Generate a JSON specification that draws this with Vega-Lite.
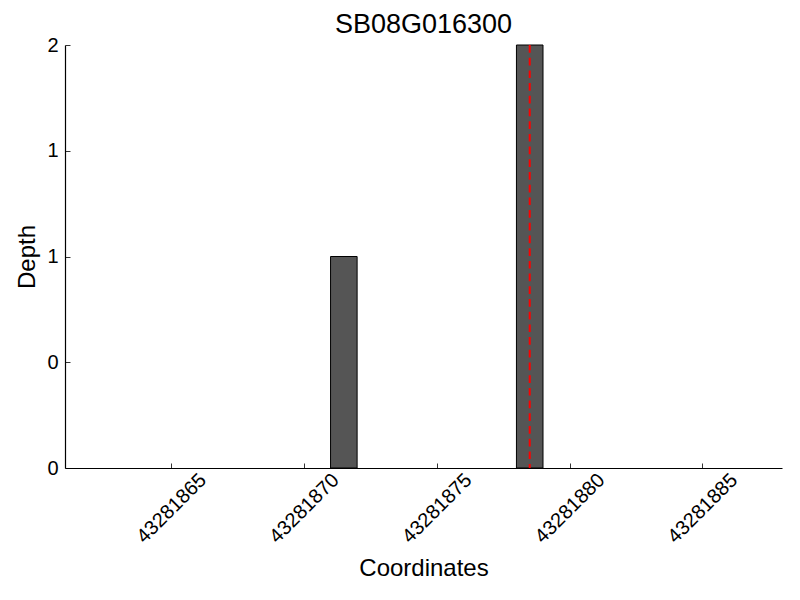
{
  "$schema": "https://vega.github.io/schema/vega-lite/v6.json",
  "autosize": "none",
  "width": 717,
  "height": 423,
  "padding": {"left": 65, "top": 45, "right": 18, "bottom": 132},
  "background": "white",
  "title": {"text": "SB08G016300", "font": "Liberation Sans", "fontSize": 27, "fontWeight": "normal", "color": "black", "offset": -4, "anchor": "middle"},
  "config": {
    "view": {"stroke": null},
    "axis": {"grid": false, "domainColor": "black", "tickColor": "black", "labelColor": "black", "titleColor": "black", "labelFont": "Liberation Sans", "titleFont": "Liberation Sans", "titleFontWeight": "normal", "domainWidth": 1.2, "tickWidth": 0.8}
  },
  "layer": [
    {
      "data": {"values": [
        {"start": 43281871, "end": 43281872, "depth": 1},
        {"start": 43281878, "end": 43281879, "depth": 2}
      ]},
      "mark": {"type": "rect", "fill": "#555555", "stroke": "black", "strokeWidth": 1},
      "encoding": {
        "x": {"field": "start", "type": "quantitative", "scale": {"domain": [43281861, 43281888], "nice": false, "zero": false},
          "axis": {"title": "Coordinates", "titleFontSize": 24, "titlePadding": 10, "values": [43281865, 43281870, 43281875, 43281880, 43281885], "format": "d", "labelFontSize": 20, "labelAngle": -45, "labelAlign": "center", "labelBaseline": "middle", "tickSize": -5, "labelPadding": 45, "labelFlush": false, "labelOverlap": false}},
        "x2": {"field": "end"},
        "y": {"field": "depth", "type": "quantitative", "scale": {"domain": [0, 2], "nice": false},
          "axis": {"title": "Depth", "titleFontSize": 24, "titlePadding": 7, "values": [0, 0.5, 1, 1.5, 2], "labelExpr": "'' + floor(datum.value)", "labelFontSize": 20, "tickSize": -5, "labelPadding": 12, "labelFlush": false, "labelOverlap": false}},
        "y2": {"datum": 0}
      }
    },
    {
      "data": {"values": [{"pos": 43281878.5}]},
      "mark": {"type": "rule", "color": "#ff0000", "strokeWidth": 2, "strokeDash": [7.7, 5]},
      "encoding": {
        "x": {"field": "pos", "type": "quantitative"}
      }
    }
  ]
}
